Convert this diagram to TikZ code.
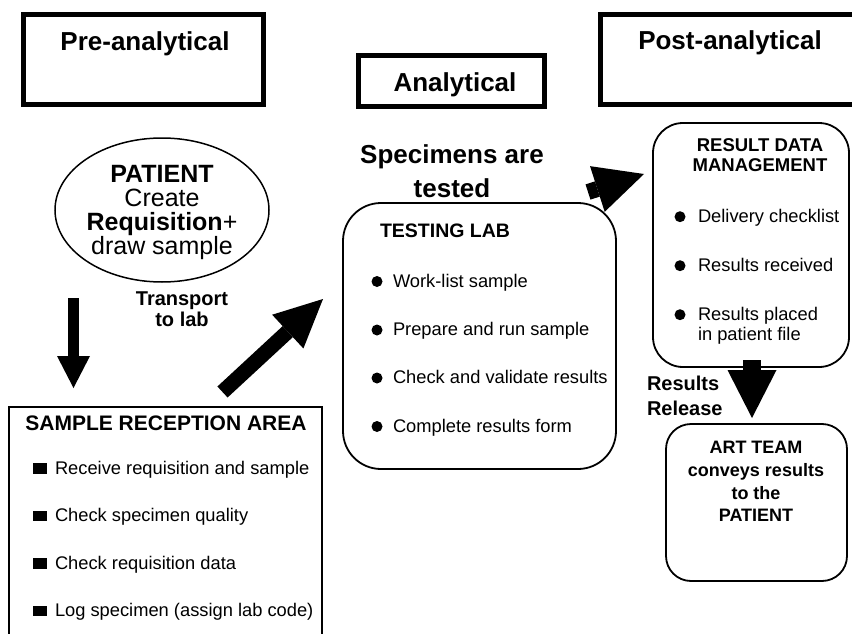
\documentclass[tikz,border=0pt]{standalone}
\usepackage{fontspec}
\setmainfont{Liberation Sans}
\usetikzlibrary{arrows.meta,shapes.geometric}

\begin{document}
\begin{tikzpicture}[x=1pt,y=-1pt,
  every node/.style={inner sep=0pt, outer sep=0pt},
  phasebox/.style={draw, line width=5pt, rectangle},
  phasetitle/.style={font=\bfseries\fontsize{26}{30}\selectfont, anchor=base},
  roundbox/.style={draw, line width=1.8pt, rectangle, rounded corners=#1},
  itemtext/.style={font=\fontsize{18.3}{20}\selectfont, anchor=base west},
  bulletdot/.style={circle, fill, minimum size=11pt},
  bulletsq/.style={rectangle, fill, minimum width=14pt, minimum height=10.5pt},
  bigarrow/.style n args={3}{line width=#1,
    -{Triangle[width=#2, length=#3, line width=0pt]}},
]
\clip (0,0) rectangle (852,634);
\fill[white] (0,0) rectangle (852,634);

% phase headers
\node[phasebox, minimum width=240pt, minimum height=90pt] (pre) at (143.5,59.5) {};
\node[phasebox, minimum width=186pt, minimum height=51pt] (ana) at (451.5,81) {};
\node[phasebox, minimum width=280pt, minimum height=90pt] (post) at (740.5,59.5) {};
\node[phasetitle] (preT) at (145,51) {Pre-analytical};
\node[phasetitle] (anaT) at (455,92) {Analytical};
\node[phasetitle] (postT) at (730,50) {Post-analytical};

% patient
\node[ellipse, draw, line width=1.5pt, minimum width=214pt, minimum height=144pt] (patient) at (162,210) {};
\node[align=center, font=\fontsize{25}{24}\selectfont] (patientT) at (162,212.7)
  {\textbf{PATIENT}\\Create\\\textbf{Requisition}+\\draw sample};

\node[align=center, font=\bfseries\fontsize{20}{21.5}\selectfont] (transport) at (182,309.2) {Transport\\to lab};

% sample reception area
\node[draw, line width=1.5pt, minimum width=313pt, minimum height=253pt] (reception) at (165.5,533.5) {};
\node[font=\bfseries\fontsize{21}{24}\selectfont, anchor=base] (receptionT) at (166,430.7) {SAMPLE RECEPTION AREA};
\node[bulletsq] (sq1) at (40,468.3) {};
\node[itemtext] (r1) at (55,474) {Receive requisition and sample};
\node[bulletsq] (sq2) at (40,515.8) {};
\node[itemtext] (r2) at (55,521.5) {Check specimen quality};
\node[bulletsq] (sq3) at (40,563.3) {};
\node[itemtext] (r3) at (55,569) {Check requisition data};
\node[bulletsq] (sq4) at (40,610.8) {};
\node[itemtext] (r4) at (55,616.5) {Log specimen (assign lab code)};

% testing lab
\node[align=center, font=\bfseries\fontsize{26}{34}\selectfont] (tested) at (452,171.7) {Specimens are\\tested};
\node[roundbox=38pt, minimum width=273pt, minimum height=266pt] (lab) at (479.5,336) {};
\node[font=\bfseries\fontsize{19.5}{22}\selectfont, anchor=base] (labT) at (445,237) {TESTING LAB};
\node[bulletdot] (d1) at (377,281.5) {};
\node[itemtext] (t1) at (393,287) {Work-list sample};
\node[bulletdot] (d2) at (377,330) {};
\node[itemtext] (t2) at (393,335.5) {Prepare and run sample};
\node[bulletdot] (d3) at (377,378) {};
\node[itemtext] (t3) at (393,383.5) {Check and validate results};
\node[bulletdot] (d4) at (377,426.5) {};
\node[itemtext] (t4) at (393,432) {Complete results form};

% result data management
\node[roundbox=30pt, minimum width=196pt, minimum height=244pt] (rdm) at (751,245) {};
\node[align=center, font=\bfseries\fontsize{18.5}{20}\selectfont] (rdmT) at (760,155.4) {RESULT DATA\\MANAGEMENT};
\node[bulletdot] (e1) at (680,216.7) {};
\node[itemtext] (m1) at (698,222) {Delivery checklist};
\node[bulletdot] (e2) at (680,265.7) {};
\node[itemtext] (m2) at (698,271) {Results received};
\node[bulletdot] (e3) at (680,314.7) {};
\node[align=left, anchor=west, font=\fontsize{18.3}{20}\selectfont] (m3) at (698,325.4) {Results placed\\in patient file};

\node[align=left, anchor=west, font=\bfseries\fontsize{20}{25}\selectfont] (release) at (647,395.4) {Results\\Release};

% ART team
\node[roundbox=25pt, minimum width=181pt, minimum height=157pt] (art) at (756.5,502.5) {};
\node[align=center, font=\bfseries\fontsize{18}{22.7}\selectfont] (artT) at (756,481.6)
  {ART TEAM\\conveys results\\to the\\PATIENT};

% block arrows
\coordinate (a1s) at (73.5,298);   \coordinate (a1e) at (73.5,388);
\coordinate (a2s) at (222.5,392);  \coordinate (a2e) at (323,299);
\coordinate (a3s) at (588,192);    \coordinate (a3e) at (644,174);
\coordinate (a4s) at (752,360);    \coordinate (a4e) at (752,418);
\draw[bigarrow={11pt}{33pt}{32pt}] (a1s) -- (a1e);
\draw[bigarrow={15pt}{46pt}{48pt}] (a2s) -- (a2e);
\draw[bigarrow={16pt}{48pt}{49pt}] (a3s) -- (a3e);
\draw[bigarrow={18pt}{49pt}{48pt}] (a4s) -- (a4e);
\end{tikzpicture}
\end{document}
